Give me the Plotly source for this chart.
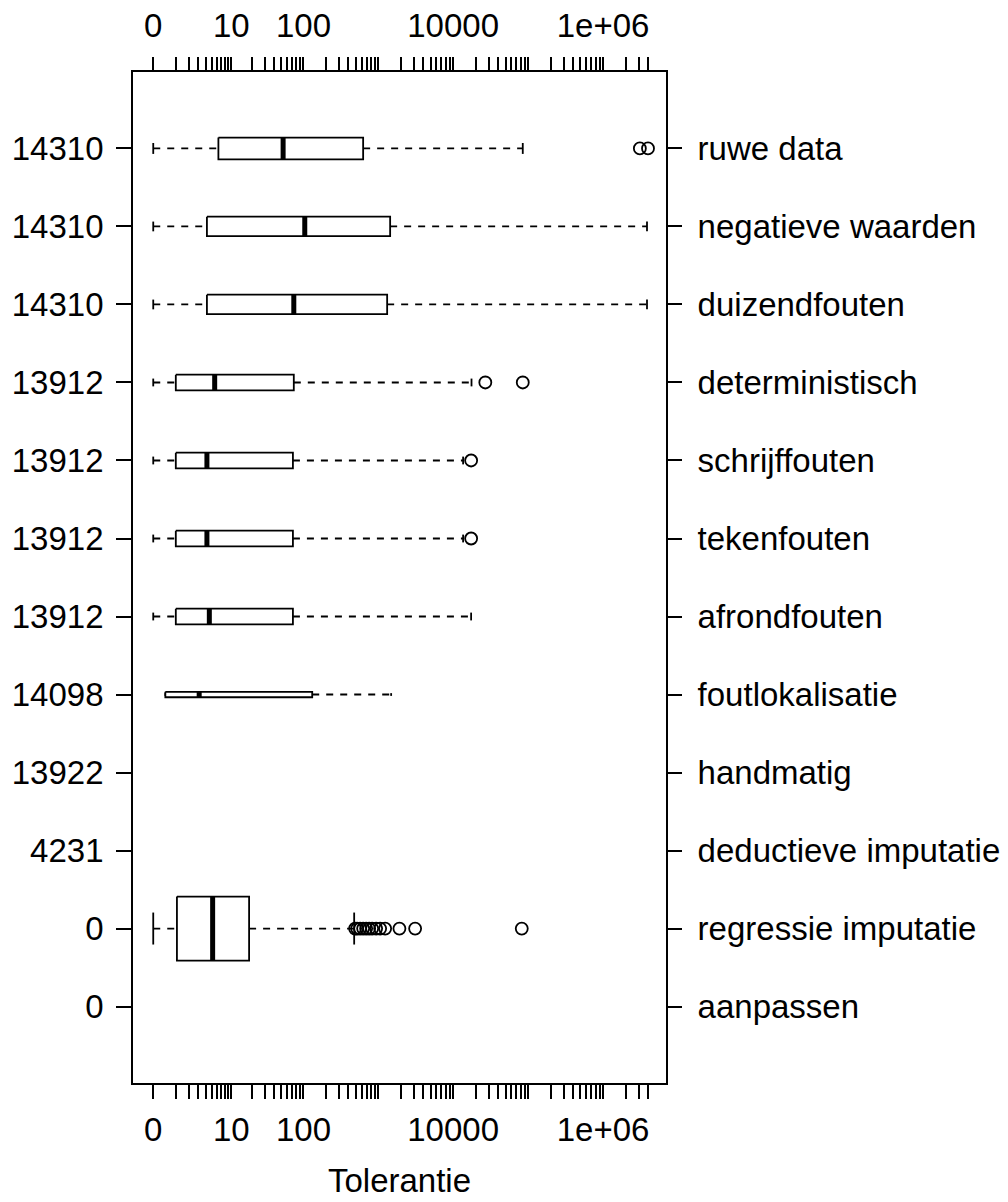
import numpy as np
import plotly.graph_objects as go

# ---------------- data ----------------
categories = ["ruwe data", "negatieve waarden", "duizendfouten", "deterministisch",
              "schrijffouten", "tekenfouten", "afrondfouten", "foutlokalisatie",
              "handmatig", "deductieve imputatie", "regressie imputatie", "aanpassen"]
counts = ["14310", "14310", "14310", "13912", "13912", "13912", "13912", "14098",
          "13922", "4231", "0", "0"]

lower_whisker = [0, 0, 0, 0, 0, 0, 0, 0.45, None, None, 0, None]
q1 = [6.4, 4.2, 4.2, 1, 1, 1, 1, 0.45, None, None, 1.07, None]
median = [53, 104, 74, 5.6, 4.2, 4.2, 4.6, 3.1, None, None, 5.2, None]
q3 = [630, 1445, 1318, 74, 72, 72, 72, 131, None, None, 18, None]
upper_whisker = [85000, 3.86e6, 3.86e6, 17600, 13600, 13600, 17400, 1490, None, None, 478, None]
outliers = [[3.1e6, 3.98e6], [], [], [26900, 85000], [17400], [17400], [], [], [], [],
            [492, 524, 574, 630, 691, 758, 831, 939, 1063, 1239, 1922, 3113, 82400], []]

major_ticks = [0, 10, 100, 10000, 1e6]
major_labels = ["0", "10", "100", "10000", "1e+06"]
minor_ticks = (list(range(0, 11)) + list(range(20, 101, 10)) + list(range(200, 1001, 100))
               + list(range(2000, 10001, 1000)) + list(range(20000, 100001, 10000))
               + list(range(200000, 1000001, 100000)) + [2e6, 3e6, 4e6])

# ---------------- style ----------------
box_height = [0.28, 0.25, 0.25, 0.2, 0.2, 0.2, 0.2, 0.07, 0, 0, 0.82, 0]
FONT = "Liberation Sans, Arial, sans-serif"
FS = 33
LW = 1.8


def T(v):
    return float(np.log10(v + 1))


bx, by, mx, my, wx, wy, cx, cy, ox, oy = [], [], [], [], [], [], [], [], [], []
for i, name in enumerate(categories):
    y = i + 1
    if q1[i] is not None:
        h = box_height[i] / 2
        a, b = T(q1[i]), T(q3[i])
        bx += [a, b, b, a, a, None]
        by += [y - h, y - h, y + h, y + h, y - h, None]
        m = T(median[i])
        mx += [m, m, None]
        my += [y - h, y + h, None]
        lo, hi = T(lower_whisker[i]), T(upper_whisker[i])
        wx += [lo, a, None, b, hi, None]
        wy += [y, y, None, y, y, None]
        c = h / 2
        cx += [lo, lo, None, hi, hi, None]
        cy += [y - c, y + c, None, y - c, y + c, None]
    for o in outliers[i]:
        ox.append(T(o))
        oy.append(y)

fig = go.Figure()
fig.add_trace(go.Scatter(x=wx, y=wy, mode="lines", line=dict(color="black", width=LW, dash="7px,7px"),
                         hoverinfo="skip", showlegend=False))
fig.add_trace(go.Scatter(x=cx, y=cy, mode="lines", line=dict(color="black", width=LW),
                         hoverinfo="skip", showlegend=False))
fig.add_trace(go.Scatter(x=bx, y=by, mode="lines", fill="toself", fillcolor="white",
                         line=dict(color="black", width=LW), hoverinfo="skip", showlegend=False))
fig.add_trace(go.Scatter(x=mx, y=my, mode="lines", line=dict(color="black", width=5),
                         hoverinfo="skip", showlegend=False))
fig.add_trace(go.Scatter(x=ox, y=oy, mode="markers",
                         marker=dict(symbol="circle-open", size=12, color="black", line=dict(width=1.8)),
                         hoverinfo="skip", showlegend=False))
fig.add_trace(go.Scatter(x=[0], y=[1], xaxis="x2", yaxis="y2", mode="markers",
                         marker=dict(opacity=0), hoverinfo="skip", showlegend=False))

tickvals = [T(v) for v in minor_ticks]
ticktext = [major_labels[major_ticks.index(v)] if v in major_ticks else "" for v in minor_ticks]

xrange = [-0.27, 6.84]
yrange = [12.98, 0.02]
common_x = dict(range=xrange, tickmode="array", tickvals=tickvals, ticktext=ticktext,
                ticks="outside", ticklen=14, tickwidth=LW, tickcolor="black",
                showgrid=False, zeroline=False, tickfont=dict(family=FONT, size=FS, color="black"))
common_y = dict(range=yrange, tickmode="array", tickvals=list(range(1, 13)),
                ticks="outside", ticklen=15, tickwidth=LW, tickcolor="black",
                showgrid=False, zeroline=False, tickfont=dict(family=FONT, size=FS, color="black"))

fig.update_layout(
    width=1008, height=1202,
    margin=dict(l=133, r=342, t=72, b=119, autoexpand=False),
    plot_bgcolor="white", paper_bgcolor="white",
    showlegend=False,
    xaxis=dict(**common_x, showline=True, mirror=True, linecolor="black", linewidth=LW,
               ticklabelstandoff=2,
               title=dict(text="Tolerantie", font=dict(family=FONT, size=FS, color="black"), standoff=22)),
    xaxis2=dict(**common_x, overlaying="x", side="top", anchor="y", showline=False,
                ticklabelstandoff=7),
    yaxis=dict(**common_y, ticktext=counts, showline=True, mirror=True, linecolor="black",
               linewidth=LW, ticklabelstandoff=6),
    yaxis2=dict(**common_y, ticktext=categories, overlaying="y", side="right", anchor="x",
                showline=False, ticklabelstandoff=9),
)

fig.write_html("out.html")
